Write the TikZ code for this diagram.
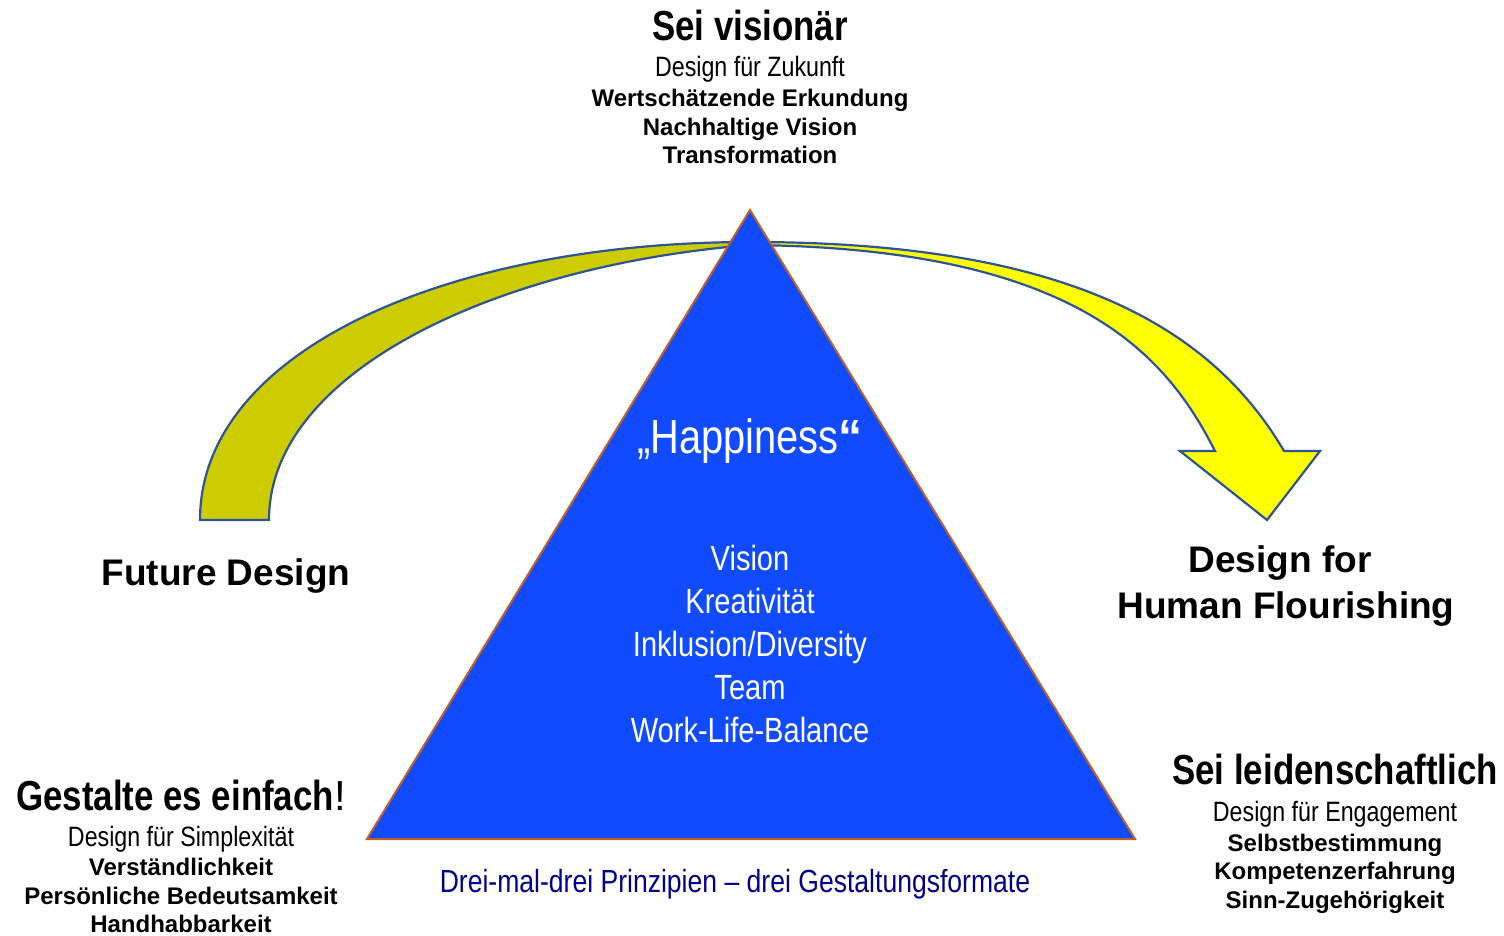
\documentclass[tikz,border=0pt]{standalone}
\usepackage{fontspec}
\setmainfont{Liberation Sans}
\newfontfamily\narrowfont[FakeStretch=0.83]{Liberation Sans}
\definecolor{triblue}{RGB}{16,75,255}
\definecolor{tribrd}{RGB}{190,95,40}
\definecolor{bandbrd}{RGB}{47,84,150}
\definecolor{bandolive}{RGB}{204,204,0}
\definecolor{bandyellow}{RGB}{255,255,0}
\definecolor{navytext}{RGB}{0,0,140}
\tikzset{
  band/.style={draw=bandbrd, line width=2.2pt, line join=miter},
  txt/.style={anchor=base, inner sep=0pt, align=center},
  headline/.style={txt, font={\narrowfont\bfseries\fontsize{42}{50}\selectfont}},
  subline/.style={txt, font={\narrowfont\fontsize{28}{34}\selectfont}},
  boldline/.style={txt, font={\bfseries\fontsize{24}{29}\selectfont}},
  bigbold/.style={txt, font={\bfseries\fontsize{37}{44}\selectfont}},
  tritext/.style={txt, text=white, font={\narrowfont\fontsize{35}{42}\selectfont}},
  happy/.style={txt, text=white, font={\narrowfont\fontsize{48}{56}\selectfont}},
  caption/.style={txt, text=navytext, font={\narrowfont\fontsize{32}{38}\selectfont}},
}
\begin{document}
\begin{tikzpicture}[x=1pt,y=-1pt]
\useasboundingbox (0,0) rectangle (1504,935);

% left band (olive)
\draw[band, fill=bandolive] (200,520) .. controls (200,350) and (450,242) .. (750,242)
  -- (750,245) .. controls (500,265) and (269,370) .. (269,520) -- cycle;

% right arrow (yellow)
\draw[band, fill=bandyellow] (750,245) .. controls (1080,248) and (1167,357) .. (1215,451)
  -- (1180,451) -- (1267,520) -- (1320,451) -- (1284,451)
  .. controls (1209,323) and (1060,242) .. (750,242) -- cycle;

% triangle
\coordinate (apex) at (750,210);
\coordinate (bl) at (367,839);
\coordinate (br) at (1135,839);
\draw[draw=tribrd, line width=2pt, fill=triblue] (apex) -- (bl) -- (br) -- cycle;

% triangle texts
\node[happy] (happy) at (750,453) {„Happiness{\normalfont\bfseries“}};
\node[tritext] (t1) at (750,570) {Vision};
\node[tritext] (t2) at (750,613) {Kreativität};
\node[tritext] (t3) at (750,656) {Inklusion/Diversity};
\node[tritext] (t4) at (750,699) {Team};
\node[tritext] (t5) at (750,742) {Work-Life-Balance};

% top block
\node[headline] (vis) at (750,40) {Sei visionär};
\node[subline] (zuk) at (750,76) {Design für Zukunft};
\node[boldline] (v1) at (750,106) {Wertschätzende Erkundung};
\node[boldline] (v2) at (750,135) {Nachhaltige Vision};
\node[boldline] (v3) at (750,163) {Transformation};

% left block
\node[headline] (ein) at (181,810) {Gestalte es einfach{\normalfont\mdseries !}};
\node[subline] (sim) at (181,846) {Design für Simplexität};
\node[boldline] (l1) at (181,875) {Verständlichkeit};
\node[boldline] (l2) at (181,904) {Persönliche Bedeutsamkeit};
\node[boldline] (l3) at (181,932) {Handhabbarkeit};

% right block
\node[headline] (lei) at (1335,784) {Sei leidenschaftlich};
\node[subline] (eng) at (1335,821) {Design für Engagement};
\node[boldline] (r1) at (1335,851) {Selbstbestimmung};
\node[boldline] (r2) at (1335,879) {Kompetenzerfahrung};
\node[boldline] (r3) at (1335,908) {Sinn-Zugehörigkeit};

% side labels
\node[bigbold] (fd) at (226,585) {Future Design};
\node[bigbold] (df1) at (1280,572) {Design for};
\node[bigbold] (df2) at (1286,618) {Human Flourishing};

% caption
\node[caption] (cap) at (735,892) {Drei-mal-drei Prinzipien – drei Gestaltungsformate};
\end{tikzpicture}
\end{document}
